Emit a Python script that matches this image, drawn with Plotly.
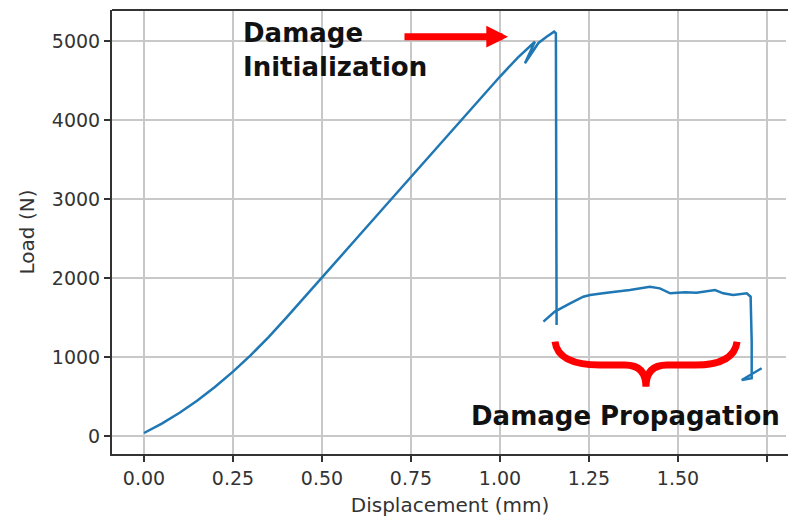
import plotly.graph_objects as go

# Loading branch (displacement mm, load N)
load_disp = [0.0, 0.05, 0.10, 0.15, 0.20, 0.25, 0.30, 0.35, 0.40, 0.45, 0.50, 0.60,
             0.70, 0.80, 0.90, 1.00, 1.05, 1.098, 1.070, 1.108, 1.13, 1.152, 1.157, 1.159]
load_force = [38, 157, 294, 449, 623, 815, 1024, 1252, 1498, 1750, 2005, 2515,
              3025, 3535, 4045, 4550, 4790, 4990, 4718, 4975, 5050, 5118, 5097, 1405]

# Propagation branch
prop_disp = [1.122, 1.154, 1.197, 1.234, 1.253, 1.281, 1.30, 1.365, 1.421, 1.449, 1.478,
             1.52, 1.552, 1.604, 1.627, 1.655, 1.693, 1.704, 1.707, 1.707, 1.679, 1.735]
prop_force = [1447, 1574, 1679, 1763, 1785, 1806, 1814, 1848, 1890, 1869, 1806,
              1820, 1814, 1848, 1806, 1785, 1806, 1763, 1200, 730, 709, 857]

x_ticks = [0.0, 0.25, 0.5, 0.75, 1.0, 1.25, 1.5, 1.75]
x_tick_labels = ["0.00", "0.25", "0.50", "0.75", "1.00", "1.25", "1.50", "1.75"]
y_ticks = [0, 1000, 2000, 3000, 4000, 5000]
y_tick_labels = ["0", "1000", "2000", "3000", "4000", "5000"]

BLUE = "#1f77b4"
RED = "#ff0000"
FONT = "DejaVu Sans"

fig = go.Figure()
fig.add_trace(go.Scatter(x=load_disp, y=load_force, mode="lines",
                         line=dict(color=BLUE, width=2.5), showlegend=False))
fig.add_trace(go.Scatter(x=prop_disp, y=prop_force, mode="lines",
                         line=dict(color=BLUE, width=2.5), showlegend=False))

# Top frame line (no right-hand frame visible in the reference crop)
fig.add_shape(type="line", xref="paper", yref="paper", x0=0, x1=1, y0=1, y1=1,
              line=dict(color="#333333", width=2), layer="above")
# keep the cropped right edge open
fig.add_shape(type="line", xref="paper", yref="paper", x0=1, x1=1, y0=0.003, y1=0.995,
              line=dict(color="white", width=4), layer="above")

# Red curly brace under the propagation plateau
brace = ("M 1.1545,1194 Q 1.163,899 1.281,899 L 1.351,899 "
         "Q 1.410,899 1.410,624 Q 1.410,899 1.469,899 L 1.548,899 "
         "Q 1.657,899 1.666,1194")
fig.add_shape(type="path", path=brace, xref="x", yref="y",
              line=dict(color=RED, width=7))

fig.add_annotation(x=1.0225, y=5054, ax=0.7275, ay=5054, xref="x", yref="y",
                   axref="x", ayref="y", text="", showarrow=True,
                   arrowhead=2, arrowwidth=7, arrowsize=0.62, arrowcolor=RED,
                   standoff=0, startstandoff=0)

fig.add_annotation(x=0.272, y=4890, xref="x", yref="y", xanchor="left", yanchor="middle",
                   text="Damage<br>Initialization", showarrow=False, align="left",
                   font=dict(family=FONT, size=26, color="#111111", weight="bold"))
fig.add_annotation(x=0.912, y=250, xref="x", yref="y", xanchor="left", yanchor="middle",
                   text="Damage Propagation", showarrow=False, align="left",
                   font=dict(family=FONT, size=26, color="#111111", weight="bold"))

axis_common = dict(showgrid=True, gridcolor="#c8c8c8", gridwidth=1.5,
                   zeroline=False, showline=True, linecolor="#333333", linewidth=2,
                   ticks="outside", ticklen=6, tickwidth=1.5, tickcolor="#333333",
                   tickfont=dict(family=FONT, size=19, color="#333333"), mirror=False,
                   automargin=False)

fig.update_xaxes(range=[-0.0899, 1.809], tickvals=x_ticks, ticktext=x_tick_labels,
                 title=dict(text="Displacement (mm)", standoff=14,
                            font=dict(family=FONT, size=20, color="#333333")),
                 **axis_common)
fig.update_yaxes(range=[-228, 5392], tickvals=y_ticks, ticktext=y_tick_labels,
                 title=dict(text="Load (N)", standoff=12,
                            font=dict(family=FONT, size=20, color="#333333")),
                 **axis_common)

fig.update_layout(width=788, height=517, margin=dict(l=112, r=0, t=10, b=63),
                  plot_bgcolor="white", paper_bgcolor="white")

fig.write_html("out.html")
